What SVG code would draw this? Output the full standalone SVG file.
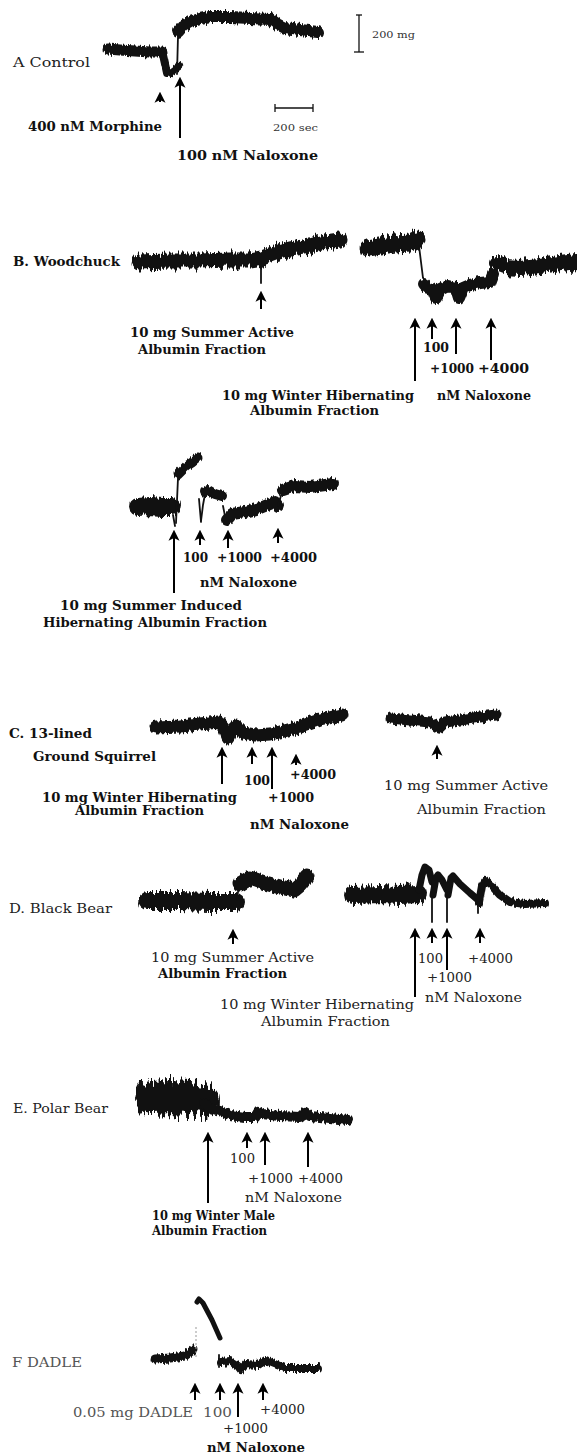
<svg xmlns="http://www.w3.org/2000/svg" width="577" height="1455" viewBox="0 0 577 1455">
<defs>
<style>
.tr{fill:none;stroke:#111;stroke-linejoin:round;stroke-linecap:round}
.th{fill:none;stroke:#111;stroke-width:1.8;stroke-linecap:round}
.ar{stroke:#000;stroke-width:2;marker-end:url(#ah)}
.b{font-family:"DejaVu Serif","Liberation Serif",serif;font-weight:bold;font-size:13.5px;fill:#111}
.r{font-family:"DejaVu Serif","Liberation Serif",serif;font-size:13.5px;fill:#222}
.g{font-family:"DejaVu Serif","Liberation Serif",serif;font-size:13px;fill:#555}
.s{font-family:"DejaVu Serif","Liberation Serif",serif;font-size:10px;fill:#333}
.bar{stroke:#111;stroke-width:1.3;fill:none}
</style>
<marker id="ah" viewBox="0 0 10 10" refX="7" refY="5" markerWidth="11" markerHeight="12" markerUnits="userSpaceOnUse" orient="auto">
<path d="M0,0 L10,5 L0,10 L2.5,5 z" fill="#000"/>
</marker>
<filter id="j1" filterUnits="userSpaceOnUse" x="0" y="0" width="577" height="1455" color-interpolation-filters="sRGB">
<feTurbulence type="fractalNoise" baseFrequency="0.55 0.02" numOctaves="2" seed="4" result="n"/>
<feColorMatrix in="n" type="matrix" values="0 0 0 0 0.5  0 1 0 0 0  0 0 0 0 0  0 0 0 0 1" result="m"/>
<feDisplacementMap in="SourceGraphic" in2="m" scale="7" xChannelSelector="R" yChannelSelector="G"/>
</filter>
<filter id="j2" filterUnits="userSpaceOnUse" x="0" y="0" width="577" height="1455" color-interpolation-filters="sRGB">
<feTurbulence type="fractalNoise" baseFrequency="0.45 0.02" numOctaves="3" seed="9" result="n"/>
<feColorMatrix in="n" type="matrix" values="0 0 0 0 0.5  0 1 0 0 0  0 0 0 0 0  0 0 0 0 1" result="m"/>
<feDisplacementMap in="SourceGraphic" in2="m" scale="13" xChannelSelector="R" yChannelSelector="G"/>
</filter>
<filter id="j3" filterUnits="userSpaceOnUse" x="0" y="0" width="577" height="1455" color-interpolation-filters="sRGB">
<feTurbulence type="fractalNoise" baseFrequency="0.5 0.03" numOctaves="3" seed="2" result="n"/>
<feColorMatrix in="n" type="matrix" values="0 0 0 0 0.5  0 1 0 0 0  0 0 0 0 0  0 0 0 0 1" result="m"/>
<feDisplacementMap in="SourceGraphic" in2="m" scale="26" xChannelSelector="R" yChannelSelector="G"/>
</filter>
</defs>
<rect width="577" height="1455" fill="#fff"/>

<!-- Panel A -->
<g id="panelA">
<path class="tr" filter="url(#j1)" stroke-width="11" d="M108,49 L120,50 L135,51 L150,52 L162,52"/>
<path class="tr" filter="url(#j1)" stroke-width="8" d="M163,55 L165,64 L167,73 L172,71 L179,66"/>
<path class="th" stroke-width="2.2" d="M177,74 L178,36"/>
<path class="tr" filter="url(#j1)" stroke-width="12" d="M178,32 L183,26 L190,22 L200,19 L210,17 L230,17 L250,18 L270,19 L277,24 L285,28 L300,30 L318,32"/>
<line class="bar" x1="275" y1="108" x2="313" y2="108"/>
<line class="bar" x1="275" y1="104" x2="275" y2="112"/>
<line class="bar" x1="313" y1="104" x2="313" y2="112"/>
<line class="bar" x1="359" y1="15" x2="359" y2="52"/>
<line class="bar" x1="356" y1="15" x2="362" y2="15"/>
<line class="bar" x1="354" y1="52" x2="364" y2="52"/>
<text class="r" x="13" y="66.5" textLength="77" lengthAdjust="spacingAndGlyphs">A  Control</text>
<text class="b" x="28" y="130.5" textLength="134" lengthAdjust="spacingAndGlyphs">400 nM Morphine</text>
<text class="b" x="177" y="159.5" textLength="141" lengthAdjust="spacingAndGlyphs">100 nM Naloxone</text>
<text class="s" x="273" y="130.5" textLength="45" lengthAdjust="spacingAndGlyphs">200 sec</text>
<text class="s" x="372" y="38" font-size="9" textLength="43" lengthAdjust="spacingAndGlyphs">200 mg</text>
</g>

<!-- Panel B -->
<g id="panelB">
<path class="tr" filter="url(#j2)" stroke-width="15" d="M139,262 L170,261 L200,261 L230,260 L250,260 L262,258 L275,253 L290,249 L310,246 L325,242 L340,240"/>
<path class="th" stroke-width="2.5" d="M261,262 L261,283"/>
<path class="tr" filter="url(#j2)" stroke-width="17" d="M368,248 L380,246 L395,244 L410,243 L417,240"/>
<path class="th" stroke-width="3.5" d="M419,246 L421,262 L423,278"/>
<path class="tr" filter="url(#j1)" stroke-width="12" d="M424,284 L428,288 L432,289 L436,298 L440,290 L448,286 L456,288 L459,298 L463,288 L470,285 L480,283 L490,282 L493,274"/>
<path class="th" stroke-width="3" d="M493,276 L496,262"/>
<path class="tr" filter="url(#j2)" stroke-width="16" d="M497,264 L505,267 L520,268 L540,266 L560,263 L577,261"/>
<text class="b" x="13" y="265.5" textLength="107" lengthAdjust="spacingAndGlyphs">B. Woodchuck</text>
<text class="b" x="130" y="336.5" textLength="164" lengthAdjust="spacingAndGlyphs">10 mg Summer Active</text>
<text class="b" x="138" y="353.5" textLength="128" lengthAdjust="spacingAndGlyphs">Albumin Fraction</text>
<text class="b" x="423" y="351.5" textLength="26" lengthAdjust="spacingAndGlyphs">100</text>
<text class="b" x="430" y="372.5" textLength="44" lengthAdjust="spacingAndGlyphs">+1000</text>
<text class="b" x="478" y="372.5" textLength="51" lengthAdjust="spacingAndGlyphs">+4000</text>
<text class="b" x="222" y="399.5" textLength="192" lengthAdjust="spacingAndGlyphs">10 mg Winter Hibernating</text>
<text class="b" x="437" y="399.5" textLength="94" lengthAdjust="spacingAndGlyphs">nM Naloxone</text>
<text class="b" x="250" y="414.5" textLength="129" lengthAdjust="spacingAndGlyphs">Albumin Fraction</text>
</g>

<!-- Panel B (second trace) -->
<g id="panelB2">
<path class="tr" filter="url(#j2)" stroke-width="18" d="M138,507 L150,506 L162,507 L172,507"/>
<path class="th" d="M173,515 L175,526"/>
<path class="th" d="M176,523 L178,478"/>
<path class="tr" filter="url(#j1)" stroke-width="9" d="M178,474 L186,466 L192,462 L198,457"/>
<path class="th" d="M199,499 L201,522"/>
<path class="th" stroke-width="3" d="M201,521 L203,505 L205,494"/>
<path class="tr" filter="url(#j1)" stroke-width="10" d="M205,492 L208,490 L215,494 L222,496"/>
<path class="th" stroke-width="2.5" d="M223,506 L226,521"/>
<path class="tr" filter="url(#j1)" stroke-width="12" d="M227,520 L232,514 L245,512 L260,508 L275,502 L278,506"/>
<path class="th" stroke-width="3" d="M278,506 L282,492"/>
<path class="tr" filter="url(#j1)" stroke-width="12" d="M283,490 L295,486 L310,487 L333,484"/>
<text class="b" x="183" y="561.5" textLength="25" lengthAdjust="spacingAndGlyphs">100</text>
<text class="b" x="217" y="561.5" textLength="45" lengthAdjust="spacingAndGlyphs">+1000</text>
<text class="b" x="270" y="561.5" textLength="47" lengthAdjust="spacingAndGlyphs">+4000</text>
<text class="b" x="200" y="586.5" textLength="97" lengthAdjust="spacingAndGlyphs">nM Naloxone</text>
<text class="b" x="60" y="609.5" textLength="182" lengthAdjust="spacingAndGlyphs">10 mg Summer Induced</text>
<text class="b" x="43" y="626.5" textLength="224" lengthAdjust="spacingAndGlyphs">Hibernating Albumin Fraction</text>
</g>

<!-- Panel C -->
<g id="panelC">
<path class="tr" filter="url(#j1)" stroke-width="13" d="M156,727 L180,726 L200,724 L219,722 L224,728 L228,738 L232,730 L236,726 L243,733 L255,735 L270,734 L280,732 L300,727 L320,720 L342,715"/>
<path class="tr" filter="url(#j1)" stroke-width="11" d="M391,718 L410,720 L430,722 L439,728 L445,722 L460,720 L480,717 L496,715"/>
<text class="b" x="9" y="738" textLength="83" lengthAdjust="spacingAndGlyphs">C. 13-lined</text>
<text class="b" x="33" y="760.5" textLength="123" lengthAdjust="spacingAndGlyphs">Ground Squirrel</text>
<text class="b" x="244" y="785" textLength="26" lengthAdjust="spacingAndGlyphs">100</text>
<text class="b" x="290" y="778.5" textLength="46" lengthAdjust="spacingAndGlyphs">+4000</text>
<text class="b" x="268" y="801.5" textLength="46" lengthAdjust="spacingAndGlyphs">+1000</text>
<text class="b" x="42" y="801.5" textLength="195" lengthAdjust="spacingAndGlyphs">10 mg Winter Hibernating</text>
<text class="b" x="75" y="815" textLength="129" lengthAdjust="spacingAndGlyphs">Albumin Fraction</text>
<text class="b" x="250" y="828.5" textLength="99" lengthAdjust="spacingAndGlyphs">nM Naloxone</text>
<text class="r" x="384" y="790" textLength="164" lengthAdjust="spacingAndGlyphs">10 mg Summer Active</text>
<text class="r" x="417" y="813.5" textLength="129" lengthAdjust="spacingAndGlyphs">Albumin Fraction</text>
</g>

<!-- Panel D -->
<g id="panelD">
<path class="tr" filter="url(#j2)" stroke-width="18" d="M147,901 L180,901 L210,902 L236,902"/>
<path class="th" d="M237,900 L239,884"/>
<path class="tr" filter="url(#j1)" stroke-width="15" d="M240,884 L250,878 L265,883 L280,887 L294,890 L300,885 L307,876"/>
<path class="tr" filter="url(#j2)" stroke-width="18" d="M353,895 L380,894 L400,895 L418,894"/>
<path class="tr" stroke-width="7" d="M419,890 L422,875 L425,867 L429,870 L432,882"/>
<path class="th" d="M432,882 L432,922"/>
<path class="tr" stroke-width="7" d="M433,895 L436,878 L438,875 L442,880 L447,890"/>
<path class="th" d="M447,890 L447,922"/>
<path class="tr" stroke-width="7" d="M448,895 L451,878 L453,876 L460,884 L470,893 L477,899"/>
<path class="th" stroke-width="2.5" d="M478,898 L478,913"/>
<path class="tr" filter="url(#j1)" stroke-width="8" d="M479,903 L482,886 L485,881 L492,886 L500,895 L510,902 L525,904 L545,903"/>
<text class="r" x="9" y="912.5" textLength="103" lengthAdjust="spacingAndGlyphs">D. Black Bear</text>
<text class="r" x="151" y="961.5" textLength="163" lengthAdjust="spacingAndGlyphs">10 mg Summer Active</text>
<text class="b" x="158" y="977.5" textLength="129" lengthAdjust="spacingAndGlyphs">Albumin Fraction</text>
<text class="r" x="418" y="962.5" textLength="25" lengthAdjust="spacingAndGlyphs">100</text>
<text class="r" x="468" y="962.5" textLength="45" lengthAdjust="spacingAndGlyphs">+4000</text>
<text class="r" x="427" y="981.5" textLength="45" lengthAdjust="spacingAndGlyphs">+1000</text>
<text class="r" x="425" y="1001.5" textLength="97" lengthAdjust="spacingAndGlyphs">nM Naloxone</text>
<text class="r" x="220" y="1008.5" textLength="194" lengthAdjust="spacingAndGlyphs">10 mg Winter Hibernating</text>
<text class="r" x="261" y="1025.5" textLength="129" lengthAdjust="spacingAndGlyphs">Albumin Fraction</text>
</g>

<!-- Panel E -->
<g id="panelE">
<path class="tr" filter="url(#j3)" stroke-width="34" d="M152,1098 L170,1097 L190,1098 L203,1100"/>
<path class="tr" filter="url(#j1)" stroke-width="10" d="M204,1103 L210,1108 L220,1111 L230,1115 L245,1117 L255,1117 L258,1112 L262,1114 L280,1116 L300,1117 L305,1112 L310,1116 L330,1118 L348,1120"/>
<text class="r" x="13" y="1112.5" textLength="95" lengthAdjust="spacingAndGlyphs">E. Polar Bear</text>
<text class="r" x="230" y="1162.5" textLength="25" lengthAdjust="spacingAndGlyphs">100</text>
<text class="r" x="248" y="1182.5" textLength="45" lengthAdjust="spacingAndGlyphs">+1000</text>
<text class="r" x="298" y="1182.5" textLength="45" lengthAdjust="spacingAndGlyphs">+4000</text>
<text class="r" x="245" y="1201.5" textLength="97" lengthAdjust="spacingAndGlyphs">nM Naloxone</text>
<text class="b" x="152" y="1219.5" textLength="123" lengthAdjust="spacingAndGlyphs">10 mg Winter Male</text>
<text class="b" x="152" y="1234.5" textLength="115" lengthAdjust="spacingAndGlyphs">Albumin Fraction</text>
</g>

<!-- Panel F -->
<g id="panelF">
<path class="tr" filter="url(#j1)" stroke-width="9" d="M155,1359 L170,1358 L185,1356 L193,1350"/>
<line x1="196" y1="1327" x2="196" y2="1357" stroke="#999" stroke-width="1" stroke-dasharray="2 2"/>
<path class="tr" stroke-width="5" d="M197,1302 L199,1299 L203,1303 L212,1320 L220,1338"/>
<path class="th" d="M219,1355 L219,1367"/>
<path class="tr" filter="url(#j1)" stroke-width="8" d="M221,1362 L230,1361 L238,1366 L241,1370 L246,1364 L258,1365 L266,1360 L272,1363 L285,1368 L300,1368 L318,1368"/>
<text class="g" x="12" y="1366.5" textLength="70" lengthAdjust="spacingAndGlyphs">F  DADLE</text>
<text class="g" x="73" y="1416.5" textLength="120" lengthAdjust="spacingAndGlyphs">0.05 mg DADLE</text>
<text class="g" x="203" y="1416.5" textLength="29" lengthAdjust="spacingAndGlyphs">100</text>
<text class="r" x="260" y="1413.5" textLength="45" lengthAdjust="spacingAndGlyphs">+4000</text>
<text class="r" x="223" y="1432.5" textLength="45" lengthAdjust="spacingAndGlyphs">+1000</text>
<text class="b" x="207" y="1452" textLength="98" lengthAdjust="spacingAndGlyphs">nM Naloxone</text>
</g>

<!-- Connectors: injection arrows -->
<g id="connectors">
<line class="ar" x1="160" y1="102" x2="160" y2="95"/>
<line class="ar" x1="180" y1="138" x2="180" y2="80"/>
<line class="ar" x1="261" y1="309" x2="261" y2="294"/>
<line class="ar" x1="415" y1="381" x2="415" y2="321"/>
<line class="ar" x1="432" y1="339" x2="432" y2="321"/>
<line class="ar" x1="456" y1="354" x2="456" y2="321"/>
<line class="ar" x1="491" y1="360" x2="491" y2="321"/>
<line class="ar" x1="174" y1="593" x2="174" y2="533"/>
<line class="ar" x1="200" y1="545" x2="200" y2="533"/>
<line class="ar" x1="228" y1="548" x2="228" y2="533"/>
<line class="ar" x1="278" y1="543" x2="278" y2="531"/>
<line class="ar" x1="222" y1="784" x2="222" y2="750"/>
<line class="ar" x1="252" y1="764" x2="252" y2="750"/>
<line class="ar" x1="272" y1="789" x2="272" y2="750"/>
<line class="ar" x1="296" y1="765" x2="296" y2="757"/>
<line class="ar" x1="437" y1="759" x2="437" y2="748"/>
<line class="ar" x1="233" y1="944" x2="233" y2="932"/>
<line class="ar" x1="415" y1="997" x2="415" y2="931"/>
<line class="ar" x1="432" y1="943" x2="432" y2="931"/>
<line class="ar" x1="447" y1="970" x2="447" y2="931"/>
<line class="ar" x1="480" y1="943" x2="480" y2="931"/>
<line class="ar" x1="208" y1="1203" x2="208" y2="1135"/>
<line class="ar" x1="247" y1="1148" x2="247" y2="1135"/>
<line class="ar" x1="265" y1="1165" x2="265" y2="1135"/>
<line class="ar" x1="308" y1="1167" x2="308" y2="1135"/>
<line class="ar" x1="195" y1="1400" x2="195" y2="1386"/>
<line class="ar" x1="220" y1="1400" x2="220" y2="1386"/>
<line class="ar" x1="238" y1="1417" x2="238" y2="1386"/>
<line class="ar" x1="263" y1="1400" x2="263" y2="1386"/>
</g>
</svg>
